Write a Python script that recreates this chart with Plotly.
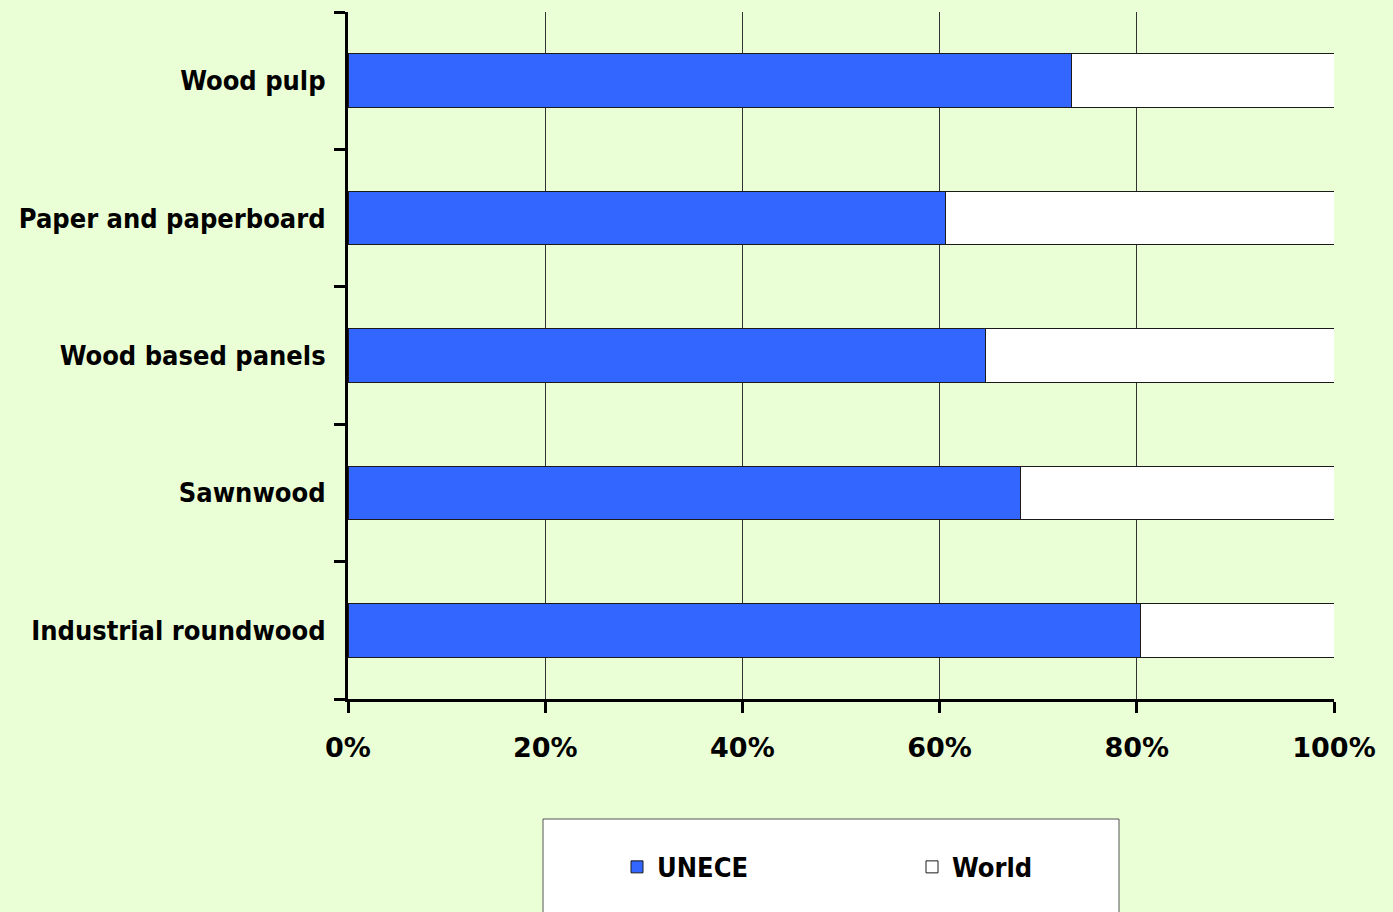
import plotly.graph_objects as go

categories = ["Industrial roundwood", "Sawnwood", "Wood based panels",
              "Paper and paperboard", "Wood pulp"]
unece = [80.4, 68.2, 64.7, 60.6, 73.4]
world = [19.6, 31.8, 35.3, 39.4, 26.6]
x_ticks = [0, 20, 40, 60, 80, 100]
x_tick_labels = ["0%", "20%", "40%", "60%", "80%", "100%"]

FONT = "DejaVu Sans Condensed, DejaVu Sans"
NUMFONT = "DejaVu Sans"
BG = "#EBFFD6"

fig = go.Figure()
fig.add_trace(go.Bar(y=categories, x=unece, name="UNECE", orientation="h",
                     marker=dict(color="#3366FF", line=dict(color="#1a1a1a", width=1))))
fig.add_trace(go.Bar(y=categories, x=world, name="World", orientation="h",
                     marker=dict(color="#FFFFFF", line=dict(color="#1a1a1a", width=1))))

fig.update_layout(
    barmode="stack",
    bargap=0.61,
    width=1393, height=912,
    margin=dict(l=348, r=59, t=12, b=213),
    paper_bgcolor=BG, plot_bgcolor=BG,
    font=dict(family=FONT, size=27, color="black"),
    showlegend=True,
    legend=dict(orientation="h", x=(617-348)/986, xanchor="left", y=-0.245, yanchor="middle",
                bgcolor="rgba(0,0,0,0)",
                font=dict(family=FONT, size=27, color="black", weight="bold"),
                entrywidth=250, entrywidthmode="pixels", traceorder="normal"),
    shapes=[dict(type="rect", xref="paper", yref="paper",
                 x0=(543-348)/986, x1=(1119-348)/986,
                 y0=(699-819)/687, y1=(699-960)/687,
                 fillcolor="white", line=dict(color="#555555", width=1), layer="below")],
)
fig.update_xaxes(range=[0, 100], tickvals=x_ticks, ticktext=x_tick_labels,
                 showgrid=True, gridcolor="#333333", gridwidth=1,
                 showline=True, linecolor="black", linewidth=3,
                 ticks="outside", ticklen=11, tickwidth=3, tickcolor="black",
                 ticklabelstandoff=12,
                 tickfont=dict(family=NUMFONT, size=27, weight="bold"),
                 zeroline=False, fixedrange=True)
fig.update_yaxes(categoryorder="array", categoryarray=categories,
                 showgrid=False, showline=True, linecolor="black", linewidth=3,
                 ticks="outside", tickson="boundaries", ticklen=11, tickwidth=3,
                 tickcolor="black", ticklabelstandoff=14,
                 tickfont=dict(family=FONT, size=27, weight="bold"),
                 fixedrange=True)

fig.write_html("out.html", config={"displayModeBar": False},
               post_script="document.body.style.margin='0';document.body.style.padding='0';")
